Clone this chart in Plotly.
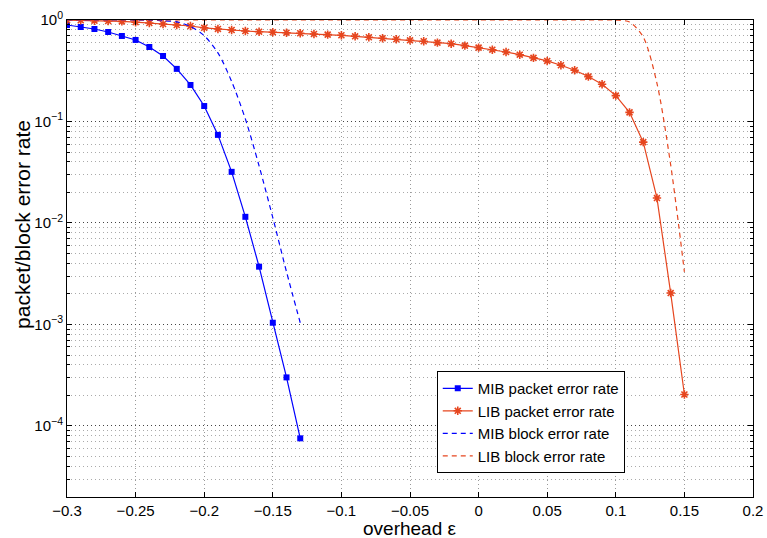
import plotly.graph_objects as go

# ---- data ----
mib_pkt_x = [-0.30, -0.29, -0.28, -0.27, -0.26, -0.25, -0.24, -0.23, -0.22, -0.21,
             -0.20, -0.19, -0.18, -0.17, -0.16, -0.15, -0.14, -0.13]
mib_pkt_y = [0.893, 0.853, 0.815, 0.762, 0.696, 0.636, 0.542, 0.442, 0.330, 0.229,
             0.142, 0.0738, 0.0319, 0.0115, 0.00371, 0.00104, 0.000301, 0.0000755]

lib_pkt_x = [-0.30, -0.29, -0.28, -0.27, -0.26, -0.25, -0.24, -0.23, -0.22, -0.21,
             -0.20, -0.19, -0.18, -0.17, -0.16, -0.15, -0.14, -0.13, -0.12, -0.11,
             -0.10, -0.09, -0.08, -0.07, -0.06, -0.05, -0.04, -0.03, -0.02, -0.01,
             0.00, 0.01, 0.02, 0.03, 0.04, 0.05, 0.06, 0.07, 0.08, 0.09,
             0.10, 0.11, 0.12, 0.13, 0.14, 0.15]
lib_pkt_y = [0.998, 0.993, 0.984, 0.978, 0.969, 0.951, 0.934, 0.913, 0.893, 0.873,
             0.838, 0.816, 0.797, 0.779, 0.767, 0.758, 0.750, 0.740, 0.728, 0.717,
             0.707, 0.691, 0.676, 0.661, 0.646, 0.631, 0.617, 0.598, 0.584, 0.559,
             0.534, 0.510, 0.484, 0.455, 0.423, 0.395, 0.358, 0.320, 0.277, 0.233,
             0.180, 0.123, 0.0626, 0.0176, 0.00204, 0.000204]

mib_blk_x = [-0.30, -0.29, -0.28, -0.27, -0.26, -0.25, -0.24, -0.23, -0.22, -0.21,
             -0.20, -0.19, -0.18, -0.17, -0.16, -0.15, -0.14, -0.13]
mib_blk_y = [1.0, 1.0, 1.0, 1.0, 1.0, 0.999, 0.995, 0.985, 0.96, 0.865,
             0.70, 0.475, 0.248, 0.106, 0.0365, 0.0113, 0.0033, 0.00104]

lib_blk_x = [-0.30, -0.25, -0.20, -0.15, -0.10, -0.05, 0.00, 0.05, 0.09, 0.10,
             0.11, 0.12, 0.13, 0.14, 0.15]
lib_blk_y = [1.0, 1.0, 1.0, 1.0, 1.0, 1.0, 1.0, 1.0, 1.0, 0.999,
             0.955, 0.68, 0.238, 0.0374, 0.0033]

x_ticks = [-0.3, -0.25, -0.2, -0.15, -0.1, -0.05, 0, 0.05, 0.1, 0.15, 0.2]
x_ticktext = ["\u22120.3", "\u22120.25", "\u22120.2", "\u22120.15", "\u22120.1", "\u22120.05",
              "0", "0.05", "0.1", "0.15", "0.2"]
y_ticks = [1, 0.1, 0.01, 0.001, 0.0001]
y_ticktext = ["10<sup>0</sup>", "10<sup>\u22121</sup>", "10<sup>\u22122</sup>",
              "10<sup>\u22123</sup>", "10<sup>\u22124</sup>"]
y_minor = [m * d for d in [1e-5, 1e-4, 1e-3, 1e-2, 1e-1] for m in range(2, 10)]

x_title = "overhead \u03b5"
y_title = "packet/block error rate"

BLUE = "#0000ff"
RED = "#e6461f"
FONT = "Liberation Sans, Arial, sans-serif"
DOT = "1px,3px"

fig = go.Figure()
fig.add_trace(go.Scatter(x=mib_pkt_x, y=mib_pkt_y, mode="lines+markers",
                         name="MIB packet error rate",
                         line=dict(color=BLUE, width=1.2),
                         marker=dict(symbol="square", size=6, color=BLUE)))
fig.add_trace(go.Scatter(x=lib_pkt_x, y=lib_pkt_y, mode="lines+markers",
                         name="LIB packet error rate",
                         line=dict(color=RED, width=1.2),
                         marker=dict(symbol="asterisk-open", size=7,
                                     line=dict(color=RED, width=1.6), color=RED)))
fig.add_trace(go.Scatter(x=mib_blk_x, y=mib_blk_y, mode="lines",
                         name="MIB block error rate",
                         line=dict(color=BLUE, width=1.2, dash="5px,4px", shape="spline",
                                   smoothing=0.8)))
fig.add_trace(go.Scatter(x=lib_blk_x, y=lib_blk_y, mode="lines",
                         name="LIB block error rate",
                         line=dict(color=RED, width=1.2, dash="5px,4px", shape="spline",
                                   smoothing=0.8)))

fig.update_layout(
    width=767, height=538,
    margin=dict(l=67, r=14, t=20, b=41, autoexpand=False),
    paper_bgcolor="white", plot_bgcolor="white",
    font=dict(family=FONT, size=15, color="black"),
    showlegend=True,
    legend=dict(x=0.539, y=0.264, xanchor="left", yanchor="top",
                bordercolor="black", borderwidth=1, bgcolor="white",
                font=dict(size=15), tracegroupgap=0),
    annotations=[
        dict(text=x_title, xref="paper", yref="paper", x=0.5, y=-0.066,
             xanchor="center", yanchor="middle", showarrow=False,
             font=dict(size=19)),
        dict(text=y_title, xref="paper", yref="paper", x=-0.066, y=0.572,
             xanchor="center", yanchor="middle", textangle=-90, showarrow=False,
             font=dict(size=21)),
    ],
)
fig.update_xaxes(
    range=[-0.3, 0.2], tickmode="array", tickvals=x_ticks, ticktext=x_ticktext,
    ticks="inside", ticklen=5, tickcolor="black", automargin=False,
    showline=True, linecolor="black", linewidth=1, mirror="ticks",
    showgrid=True, gridcolor="#999", griddash=DOT, gridwidth=1, zeroline=False,
)
fig.update_yaxes(
    type="log", range=[-4.70, 0], tickmode="array", tickvals=y_ticks, ticktext=y_ticktext,
    ticks="inside", ticklen=5, tickcolor="black", automargin=False,
    showline=True, linecolor="black", linewidth=1, mirror="ticks",
    showgrid=True, gridcolor="#444", griddash=DOT, gridwidth=1, zeroline=False,
    minor=dict(tickmode="array", tickvals=y_minor, ticks="inside", ticklen=3,
               tickcolor="black", showgrid=True, gridcolor="#aaa", griddash=DOT),
)

fig.write_html("out.html")
